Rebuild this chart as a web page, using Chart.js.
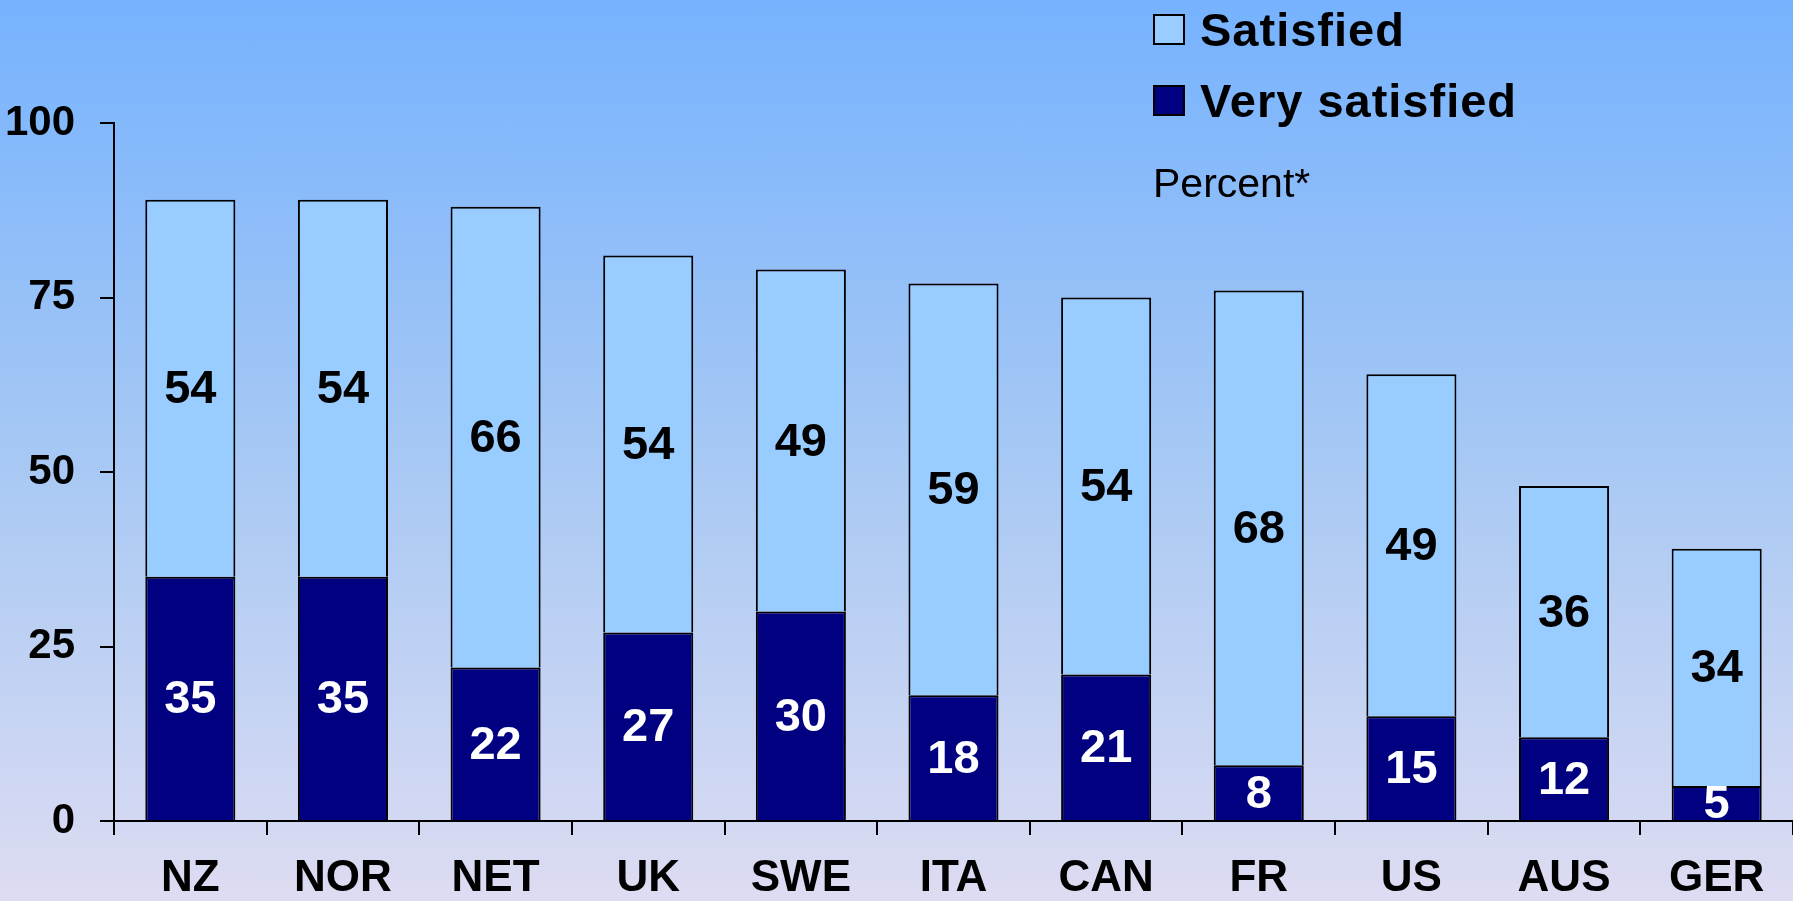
<!DOCTYPE html>
<html>
<head>
<meta charset="utf-8">
<script src="https://cdn.jsdelivr.net/npm/chart.js@4.4.0/dist/chart.umd.min.js"></script>
<style>
  html, body { margin: 0; padding: 0; }
  body {
    width: 1793px; height: 901px; overflow: hidden; position: relative;
    background: linear-gradient(to bottom, #76b2fe 0%, #a6c8f4 50%, #dddcf2 100%);
    font-family: "Liberation Sans", Arial, sans-serif;
  }
  #wrap { position: absolute; left: 0; top: 0; width: 1793px; height: 901px; }
  .leg { position: absolute; left: 1153px; font-weight: bold; font-size: 47px; line-height: 47px; letter-spacing: 1px; color: #000; }
  .leg span.box { position: absolute; left: 0; width: 28px; height: 27px; border: 2px solid #000; }
  .leg span.txt { position: absolute; left: 47px; top: 0; white-space: nowrap; }
  #note { position: absolute; left: 1153px; top: 160px; font-size: 41px; color: #000; }
</style>
</head>
<body>
<div id="wrap"><canvas id="satisfied"></canvas></div>
<div class="leg" style="top:6px"><span class="box" style="top:8px;background:#99ccff"></span><span class="txt">Satisfied</span></div>
<div class="leg" style="top:77px"><span class="box" style="top:8px;background:#000080"></span><span class="txt">Very satisfied</span></div>
<div id="note">Percent*</div>
<script>
var countries = ['NZ', 'NOR', 'NET', 'UK', 'SWE', 'ITA', 'CAN', 'FR', 'US', 'AUS', 'GER'];
var verySatisfied = [35, 35, 22, 27, 30, 18, 21, 8, 15, 12, 5];
var satisfied = [54, 54, 66, 54, 49, 59, 54, 68, 49, 36, 34];
var yTicks = [0, 25, 50, 75, 100];

// writes the value in the middle of each bar segment
var barLabels = {
  id: 'barLabels',
  afterDatasetsDraw: function(chart) {
    var ctx = chart.ctx;
    ctx.save();
    ctx.font = 'bold 47px "Liberation Sans", Arial, sans-serif';
    ctx.textAlign = 'center';
    ctx.textBaseline = 'middle';
    chart.data.datasets.forEach(function(ds, i) {
      var meta = chart.getDatasetMeta(i);
      meta.data.forEach(function(bar, j) {
        ctx.fillStyle = ds.labelColor;
        var mid = (bar.y + bar.base) / 2;
        ctx.fillText(ds.data[j], bar.x, mid + 2);
      });
    });
    ctx.restore();
  }
};

var canvas = document.getElementById('satisfied');
canvas.width = 1793;
canvas.height = 901;

new Chart(canvas.getContext('2d'), {
  type: 'bar',
  data: {
    labels: countries,
    datasets: [
      {
        label: 'Very satisfied',
        data: verySatisfied,
        backgroundColor: '#000080',
        borderColor: '#000',
        borderWidth: 2,
        labelColor: '#fff'
      },
      {
        label: 'Satisfied',
        data: satisfied,
        backgroundColor: '#99ccff',
        borderColor: '#000',
        borderWidth: 2,
        labelColor: '#000'
      }
    ]
  },
  options: {
    responsive: false,
    animation: false,
    layout: { padding: { top: 123, left: 0, right: 0, bottom: 0 } },
    plugins: { legend: { display: false }, tooltip: { enabled: false } },
    datasets: { bar: { barPercentage: 0.59, categoryPercentage: 1 } },
    scales: {
      x: {
        stacked: true,
        afterFit: function(axis) { axis.height = 80; },
        border: { color: '#000', width: 2 },
        grid: { offset: true, drawOnChartArea: false, color: '#000', lineWidth: 2, tickLength: 14 },
        ticks: {
          color: '#000',
          padding: 22,
          font: { family: '"Liberation Sans", Arial', size: 44, weight: 'bold', lineHeight: 1 }
        }
      },
      y: {
        stacked: true,
        min: 0,
        max: 100,
        afterBuildTicks: function(axis) {
          axis.ticks = yTicks.map(function(v) { return { value: v }; });
        },
        afterFit: function(axis) { axis.width = 114; },
        border: { color: '#000', width: 2 },
        grid: { drawOnChartArea: false, color: '#000', lineWidth: 2, tickLength: 14 },
        ticks: {
          color: '#000',
          padding: 25,
          font: { family: '"Liberation Sans", Arial', size: 42, weight: 'bold' }
        }
      }
    }
  },
  plugins: [barLabels]
});
</script>
</body>
</html>
